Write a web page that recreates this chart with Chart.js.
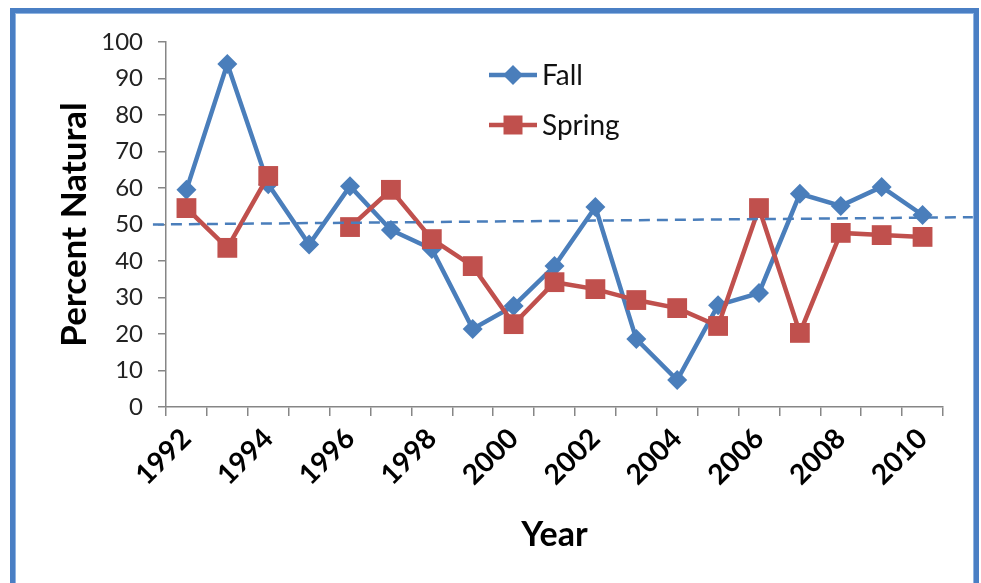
<!DOCTYPE html>
<html>
<head>
<meta charset="utf-8">
<script src="https://cdn.jsdelivr.net/npm/chart.js@4/dist/chart.umd.min.js"></script>
<style>
  html, body { margin: 0; padding: 0; background: #fff; }
  #wrap { position: relative; width: 981px; height: 583px; overflow: hidden; background: #fff; }
  #frame {
    position: absolute; left: 10px; top: 8px; width: 959px; height: 620px;
    border: 5px solid #4a7fc4; box-shadow: inset 0 0 0 1px #8fb4e2;
  }
  canvas { position: absolute; left: 0; top: 0; }
</style>
</head>
<body>
<div id="wrap">
  <div id="frame"></div>
  <canvas id="c" width="981" height="583"></canvas>
</div>
<script>
// Survey years (one category per year)
const years = ['1992','1993','1994','1995','1996','1997','1998','1999','2000','2001',
               '2002','2003','2004','2005','2006','2007','2008','2009','2010'];
// Years that carry an axis label
const tickYears = ['1992','1994','1996','1998','2000','2002','2004','2006','2008','2010'];
// Percent natural, fall survey
const fall = [59.5, 94, 61, 44.5, 60.5, 48.5, 43.3, 21.4, 27.7, 38.6,
              54.8, 18.6, 7.4, 27.9, 31.2, 58.4, 55.1, 60.3, 52.6];
// Percent natural, spring survey (no survey in 1995)
const spring = [54.5, 43.6, 63.3, null, 49.3, 59.5, 46, 38.6, 22.7, 34.2,
                32.3, 29.3, 27.1, 22.2, 54.5, 20.3, 47.7, 47.1, 46.6];
// Dashed reference level: value at its left end and at its right end
const refLevel = [50, 52];
// Value axis ticks
const yTicks = { min: 0, max: 100, step: 10 };

const BLUE = '#4a7ebb';
const RED = '#c0504d';
const AXIS = '#868686';
const FONT = 'Lato, "Open Sans", "Liberation Sans", sans-serif';

// Dashed reference line, running a little past both ends of the plot
const refLinePlugin = {
  id: 'refLine',
  afterDatasetsDraw(chart, args, opts) {
    const x = chart.scales.x, y = chart.scales.y;
    const ctx = chart.ctx;
    ctx.save();
    ctx.strokeStyle = opts.color;
    ctx.lineWidth = opts.width;
    ctx.setLineDash(opts.dash);
    ctx.beginPath();
    ctx.moveTo(x.getPixelForValue(opts.from), y.getPixelForValue(refLevel[0]));
    ctx.lineTo(x.getPixelForValue(opts.to), y.getPixelForValue(refLevel[1]));
    ctx.stroke();
    ctx.restore();
  }
};

// Legend drawn inside the plot: a short line with the series marker, then the name
const innerLegend = {
  id: 'innerLegend',
  afterDraw(chart, args, opts) {
    const ctx = chart.ctx;
    ctx.save();
    chart.data.datasets.forEach((ds, i) => {
      const yy = opts.top + i * opts.gap;
      const x0 = opts.left, x1 = opts.left + opts.lineLen, xm = (x0 + x1) / 2;
      ctx.strokeStyle = ds.borderColor;
      ctx.lineWidth = ds.borderWidth;
      ctx.setLineDash([]);
      ctx.beginPath();
      ctx.moveTo(x0, yy); ctx.lineTo(x1, yy); ctx.stroke();
      ctx.fillStyle = ds.backgroundColor;
      ctx.beginPath();
      if (ds.pointStyle === 'rectRot') {
        const r = opts.diamond;
        ctx.moveTo(xm, yy - r); ctx.lineTo(xm + r, yy); ctx.lineTo(xm, yy + r); ctx.lineTo(xm - r, yy);
        ctx.closePath();
      } else {
        const s = opts.square;
        ctx.rect(xm - s / 2, yy - s / 2, s, s);
      }
      ctx.fill();
      ctx.fillStyle = '#111';
      ctx.font = opts.font;
      ctx.textAlign = 'left';
      ctx.textBaseline = 'middle';
      ctx.fillText(ds.label, x1 + opts.textGap, yy + 1);
    });
    ctx.restore();
  }
};

new Chart(document.getElementById('c'), {
  type: 'line',
  data: {
    labels: years,
    datasets: [
      {
        label: 'Fall', data: fall, order: 1,
        borderColor: BLUE, backgroundColor: BLUE, borderWidth: 4.5,
        pointStyle: 'rectRot', pointRadius: 10, pointBorderWidth: 0,
        pointBackgroundColor: BLUE, tension: 0
      },
      {
        label: 'Spring', data: spring, order: 0, spanGaps: false,
        borderColor: RED, backgroundColor: RED, borderWidth: 4.5,
        pointStyle: 'rect', pointRadius: 14, pointBorderWidth: 0,
        pointBackgroundColor: RED, tension: 0
      }
    ]
  },
  options: {
    responsive: false,
    devicePixelRatio: 1,
    animation: false,
    layout: { padding: { top: 42, right: 38, bottom: 10, left: 0 } },
    plugins: {
      legend: { display: false },
      tooltip: { enabled: false },
      refLine: { from: -0.82, to: 19.23, color: BLUE, width: 2.5, dash: [11, 7] },
      innerLegend: {
        left: 489, top: 75, gap: 50, lineLen: 48, textGap: 5,
        diamond: 10, square: 19, font: '28px ' + FONT
      }
    },
    scales: {
      x: {
        type: 'category',
        offset: true,
        grid: { offset: true, drawOnChartArea: false, drawTicks: true, tickLength: 9, color: AXIS, lineWidth: 1.5 },
        border: { color: AXIS, width: 1.5 },
        ticks: {
          autoSkip: false, minRotation: 45, maxRotation: 45, padding: 6,
          color: '#000',
          font: { family: FONT, size: 28, weight: 'bold' },
          callback(v, i) { return tickYears.includes(years[i]) ? years[i] : ''; }
        },
        title: {
          display: true, text: 'Year', color: '#000',
          font: { family: FONT, size: 34, weight: 'bold' },
          padding: { top: 0, bottom: 18 }
        },
        afterFit(s) { s.height = 166; }
      },
      y: {
        min: yTicks.min, max: yTicks.max,
        grid: { drawOnChartArea: false, drawTicks: true, tickLength: 8, color: AXIS, lineWidth: 1.5 },
        border: { color: AXIS, width: 1.5 },
        ticks: {
          stepSize: yTicks.step, padding: 15, color: '#222',
          font: { family: FONT, size: 24 }
        },
        title: {
          display: true, text: 'Percent Natural', color: '#000',
          font: { family: FONT, size: 35, weight: 'bold' },
          padding: { top: 54, bottom: 0 }
        },
        afterFit(s) { s.width = 166; }
      }
    }
  },
  plugins: [refLinePlugin, innerLegend]
});
</script>
</body>
</html>
